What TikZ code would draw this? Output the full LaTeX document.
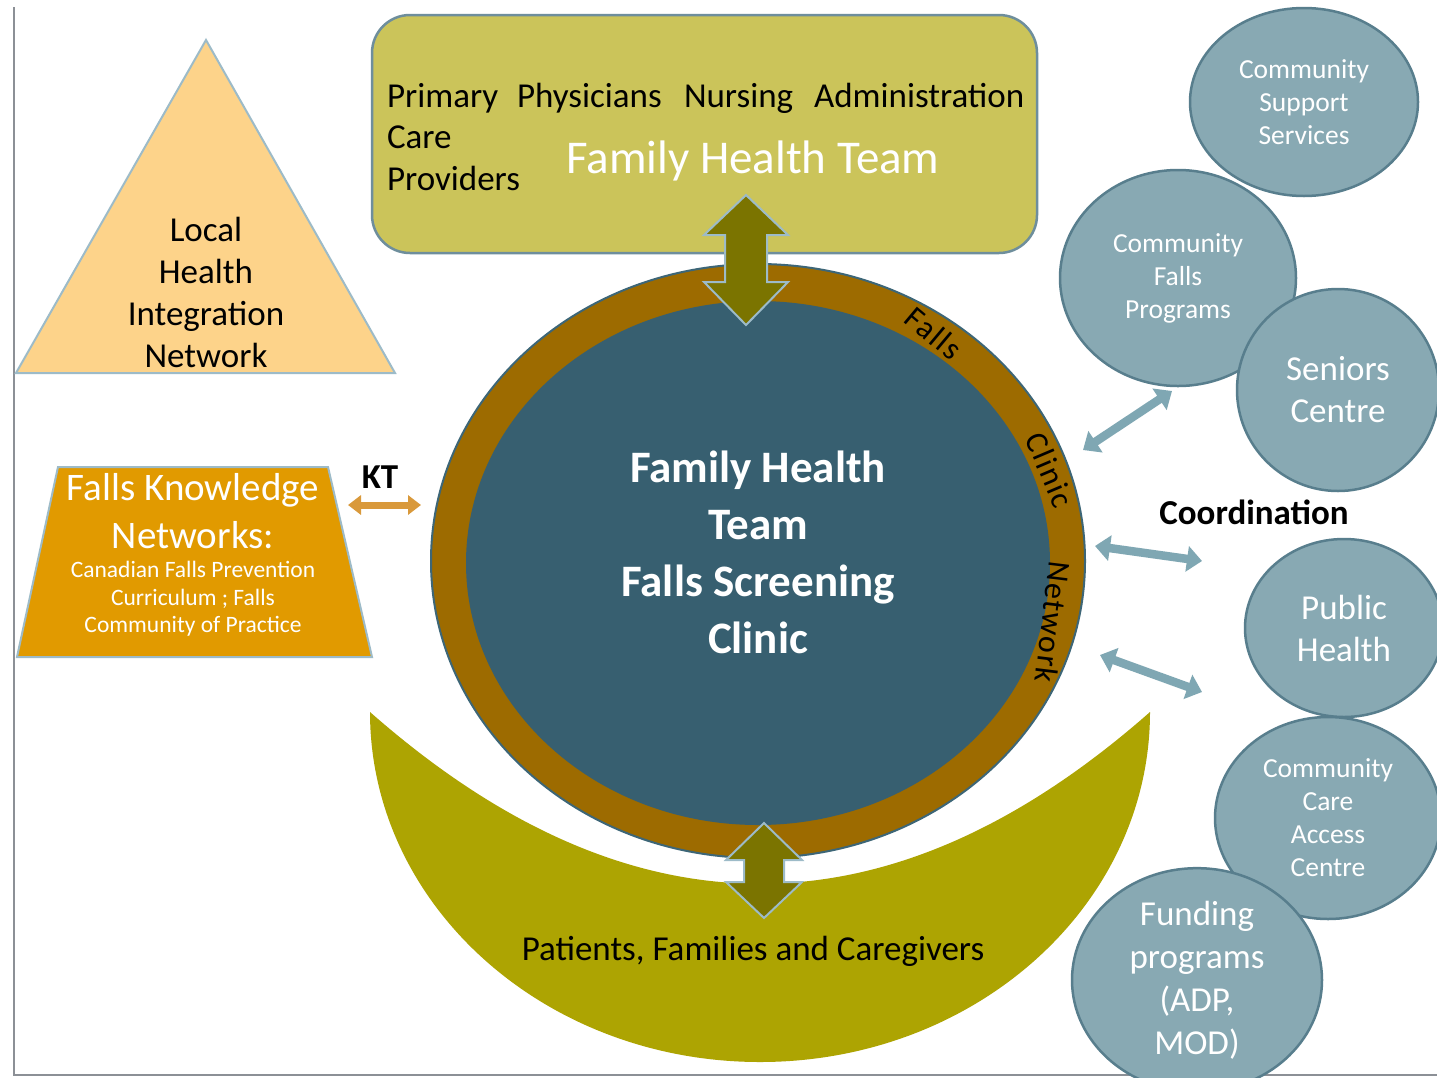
\documentclass[tikz,border=0pt]{standalone}
\usepackage{fontspec}
\setmainfont{Carlito}
\usetikzlibrary{shapes.geometric,arrows.meta,calc}
\definecolor{framegray}{HTML}{8C9096}
\definecolor{trifill}{HTML}{FDD38A}
\definecolor{lightbd}{HTML}{9DBBC8}
\definecolor{boxfill}{HTML}{CBC45A}
\definecolor{boxbd}{HTML}{6E8E9C}
\definecolor{ringfill}{HTML}{9D6B00}
\definecolor{ringbd}{HTML}{3D6677}
\definecolor{corefill}{HTML}{375F70}
\definecolor{olivearr}{HTML}{7B7400}
\definecolor{crescent}{HTML}{ADA402}
\definecolor{trapfill}{HTML}{E19A00}
\definecolor{circfill}{HTML}{88A9B3}
\definecolor{circbd}{HTML}{587E8D}
\definecolor{smallarr}{HTML}{7FA7B3}
\definecolor{ktcol}{HTML}{D9993B}
\begin{document}
\begin{tikzpicture}[x=1pt,y=-1pt,
  every node/.style={inner sep=0pt, outer sep=0pt},
  bubble/.style={ellipse, draw=circbd, line width=2.5pt, fill=circfill, text=white, align=center, inner sep=0pt},
  smallfont/.style={font=\fontsize{27.5}{33}\selectfont},
  bigfont/.style={font=\fontsize{35}{42}\selectfont},
  bigarr/.style={fill=olivearr, draw=lightbd, line width=2pt, line join=miter},
  smallarrow/.style={draw=smallarr, line width=8.5pt, {Triangle[width=25pt,length=15pt]}-{Triangle[width=25pt,length=15pt]}},
  ktarrow/.style={draw=ktcol, line width=7pt, {Triangle[width=19pt,length=13pt]}-{Triangle[width=19pt,length=13pt]}},
  ringlab/.style={font=\fontsize{32}{36}\selectfont\addfontfeatures{LetterSpace=5}, text=black},
  words/.style={font=\fontsize{35}{42}\selectfont, anchor=base west}
]
\useasboundingbox (0,0) rectangle (1437,1077);
\clip (0,0) rectangle (1437,1077);
\fill[white] (0,0) rectangle (1437,1077);

% frame
\coordinate (frTop) at (14,7);
\coordinate (frCorner) at (14,1075);
\coordinate (frRight) at (1437,1075);
\draw[framegray, line width=2pt] (frTop) -- (frCorner) -- (frRight);

% triangle
\coordinate (triA) at (206,40);
\coordinate (triR) at (395,373);
\coordinate (triL) at (16,373);
\draw[fill=trifill, draw=lightbd, line width=2pt] (triA) -- (triR) -- (triL) -- cycle;
\node[bigfont, align=center] (lhin) at (206,292) {Local\\Health\\Integration\\Network};

% top box
\node[rectangle, rounded corners=38pt, minimum width=665pt, minimum height=238pt,
      fill=boxfill, draw=boxbd, line width=2.5pt] (fhtbox) at (704.5,134) {};
\node[words] (wPrim) at (387,107) {Primary};
\node[words] (wPhys) at (517,107) {Physicians};
\node[words] (wNurs) at (684,107) {Nursing};
\node[words] (wAdm) at (814,107) {Administration};
\node[words] (wCare) at (387,148) {Care};
\node[words] (wProv) at (387,190) {Providers};
\node[font=\fontsize{47}{56}\selectfont, text=white, anchor=base] (fhtTitle) at (753,173) {Family Health Team};

% crescent
\coordinate (crL) at (370,712);
\coordinate (crR) at (1150,712);
\fill[crescent] (crL) arc[start angle=180, end angle=0, x radius=390, y radius=350]
   .. controls (890,941) and (630,941) .. (crL) -- cycle;
\node[bigfont] (pfc) at (753,951) {Patients, Families and Caregivers};

% central circle
\node[ellipse, minimum width=654pt, minimum height=594pt, fill=ringfill, draw=ringbd, line width=2pt] (ring) at (758,561) {};
\node[ellipse, minimum width=584pt, minimum height=524pt, fill=corefill] (core) at (758,563) {};
\node[font=\bfseries\fontsize{45}{57}\selectfont, text=white, align=center] (fhtc) at (758,552)
   {Family Health\\Team\\Falls Screening\\Clinic};
\node[ringlab, rotate=-40] (lbFalls) at (934,333) {Falls};
\node[ringlab, rotate=-67] (lbClinic) at (1050,470) {Clinic};
\node[ringlab, rotate=-97] (lbNet) at (1053,622) {Network};

% big double arrows
\coordinate (topArr) at (746,260);
\draw[bigarr, shift={(topArr)}] (0,-65) -- (42,-25) -- (21,-25) -- (21,22) -- (42,22) -- (0,65)
   -- (-42,22) -- (-21,22) -- (-21,-25) -- (-42,-25) -- cycle;
\coordinate (botArr) at (764,870);
\draw[bigarr, shift={(botArr)}] (0,-47) -- (38,-10) -- (20,-10) -- (20,12) -- (38,12) -- (0,48)
   -- (-38,12) -- (-20,12) -- (-20,-10) -- (-38,-10) -- cycle;

% Falls Knowledge Networks trapezoid
\coordinate (tzTL) at (58,467);
\coordinate (tzTR) at (328,467);
\coordinate (tzBR) at (372,657);
\coordinate (tzBL) at (17,657);
\draw[fill=trapfill, draw=lightbd, line width=2pt] (tzTL) -- (tzTR) -- (tzBR) -- (tzBL) -- cycle;
\node[font=\fontsize{39}{48}\selectfont, text=white, align=center] (fknTitle) at (193,511) {Falls Knowledge\\Networks:};
\node[font=\fontsize{23.5}{27.5}\selectfont, text=white, align=center] (fknSub) at (193,599)
   {Canadian Falls Prevention\\Curriculum ; Falls\\Community of Practice};

% KT
\node[font=\bfseries\fontsize{35}{42}\selectfont] (kt) at (380,477) {KT};
\coordinate (ktL) at (348,505);
\coordinate (ktR) at (421,505);
\draw[ktarrow] (ktL) -- (ktR);

% community bubbles
\node[bubble, smallfont, minimum width=228pt, minimum height=188pt] (css) at (1304,102) {Community\\Support\\Services};
\node[bubble, smallfont, minimum width=236pt, minimum height=216pt] (cfp) at (1178,278) {Community\\Falls\\Programs};
\node[bubble, bigfont, minimum width=202pt, minimum height=202pt] (sc) at (1338,390) {Seniors\\Centre};
\node[bubble, bigfont, minimum width=198pt, minimum height=178pt] (ph) at (1344,628) {Public\\Health};
\node[bubble, smallfont, minimum width=226pt, minimum height=202pt] (ccac) at (1328,818) {Community\\Care\\Access\\Centre};
\node[bubble, font=\fontsize{35}{43}\selectfont, minimum width=250pt, minimum height=194pt] (fund) at (1197,980) {Funding\\programs\\(ADP,\\MOD)};

\node[font=\bfseries\fontsize{35}{42}\selectfont] (coord) at (1254,512) {Coordination};

% coordination arrows
\coordinate (a1s) at (1083,450);
\coordinate (a1e) at (1172,391);
\coordinate (a2s) at (1095,546);
\coordinate (a2e) at (1202,561);
\coordinate (a3s) at (1100,655);
\coordinate (a3e) at (1202,692);
\draw[smallarrow] (a1s) -- (a1e);
\draw[smallarrow] (a2s) -- (a2e);
\draw[smallarrow] (a3s) -- (a3e);
\end{tikzpicture}
\end{document}
